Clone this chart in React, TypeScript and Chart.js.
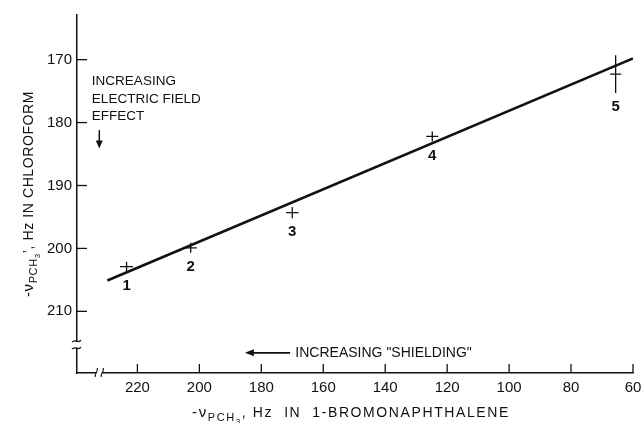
import React, { useEffect, useRef } from 'react';
import { Chart, registerables } from 'chart.js';

Chart.register(...registerables);

const FONT = '"Liberation Sans", Arial, sans-serif';

// ---- data ----
const pointLabels = ['1', '2', '3', '4', '5'];
const xValues = [223.5, 202.8, 170.0, 124.8, 65.6];
const yValues = [202.9, 199.9, 194.3, 182.2, 172.3];
const xErrors = [2.1, 2.0, 2.0, 1.9, 1.8];
const yErrors = [0.8, 0.8, 0.9, 0.8, 3.0];
const fitX = [229.7, 60];
const fitY = [205.1, 169.8];
const xTickValues = [220, 200, 180, 160, 140, 120, 100, 80, 60];
const yTickValues = [170, 180, 190, 200, 210];
const xTickLabels = ['220', '200', '180', '160', '140', '120', '100', '80', '60'];
const yTickLabels = ['170', '180', '190', '200', '210'];

// ---- annotation text ----
const fieldNoteLines = ['INCREASING', 'ELECTRIC FIELD', 'EFFECT'];
const shieldingNote = 'INCREASING "SHIELDING"';
const yTitleParts = [
  { text: '-ν', size: 15, dy: 0 },
  { text: 'PCH', size: 11, dy: 4 },
  { text: '3', size: 8, dy: 7 },
  { text: '\u2019, Hz IN CHLOROFORM', size: 14, dy: 0 },
];
const xTitleParts = [
  { text: '-ν', size: 15, dy: 0 },
  { text: 'PCH', size: 11, dy: 4 },
  { text: '3', size: 8, dy: 7 },
  { text: ', Hz  IN  1-BROMONAPHTHALENE', size: 14, dy: 0 },
];

// annotation anchors in data units
const fieldNoteAt = { x: 234.7, y: 173.5 };
const fieldArrow = { x: 232.3, y1: 181.2, y2: 184.1 };
const shieldArrow = { tail: 170.7, tip: 185.3, y: 216.6 };
const shieldTextX = 169.0;
const yBreakValue = 215.3;
const xBreakValue = 232.3;

type Part = { text: string; size: number; dy: number };

function partsWidth(ctx: CanvasRenderingContext2D, parts: Part[], spacing: number) {
  let w = 0;
  for (const p of parts) {
    ctx.font = `${p.size}px ${FONT}`;
    for (const ch of p.text) w += ctx.measureText(ch).width + spacing;
  }
  return w;
}

function drawRich(
  ctx: CanvasRenderingContext2D,
  parts: Part[],
  cx: number,
  cy: number,
  angle: number,
  spacing: number
) {
  ctx.save();
  ctx.translate(cx, cy);
  ctx.rotate(angle);
  ctx.textBaseline = 'alphabetic';
  ctx.textAlign = 'left';
  const total = partsWidth(ctx, parts, spacing);
  let x = -total / 2;
  for (const p of parts) {
    ctx.font = `${p.size}px ${FONT}`;
    for (const ch of p.text) {
      ctx.fillText(ch, x, p.dy);
      x += ctx.measureText(ch).width + spacing;
    }
  }
  ctx.restore();
}

export default function App() {
  const ref = useRef<HTMLCanvasElement>(null);

  useEffect(() => {
    const canvas = ref.current;
    if (!canvas) return;

    const overlay = {
      id: 'overlay',
      afterDraw(chart: any) {
        const ctx: CanvasRenderingContext2D = chart.ctx;
        const xs = chart.scales.x;
        const ys = chart.scales.y;
        const area = chart.chartArea;
        const ink = '#111';
        ctx.save();
        ctx.strokeStyle = ink;
        ctx.fillStyle = ink;
        ctx.lineCap = 'butt';

        // inner tick marks
        ctx.lineWidth = 1.3;
        for (const v of xTickValues) {
          const px = xs.getPixelForValue(v);
          ctx.beginPath();
          ctx.moveTo(px, area.bottom);
          ctx.lineTo(px, area.bottom - 9);
          ctx.stroke();
        }
        for (const v of yTickValues) {
          const py = ys.getPixelForValue(v);
          ctx.beginPath();
          ctx.moveTo(area.left, py);
          ctx.lineTo(area.left + 10, py);
          ctx.stroke();
        }

        // error crosses
        ctx.lineWidth = 1.3;
        for (let i = 0; i < xValues.length; i++) {
          const x0 = xs.getPixelForValue(xValues[i] + xErrors[i]);
          const x1 = xs.getPixelForValue(xValues[i] - xErrors[i]);
          const yc = ys.getPixelForValue(yValues[i]);
          const xc = xs.getPixelForValue(xValues[i]);
          const y0 = ys.getPixelForValue(yValues[i] - yErrors[i]);
          const y1 = ys.getPixelForValue(yValues[i] + yErrors[i]);
          ctx.beginPath();
          ctx.moveTo(x0, yc);
          ctx.lineTo(x1, yc);
          ctx.moveTo(xc, y0);
          ctx.lineTo(xc, y1);
          ctx.stroke();
          // point number
          ctx.font = `bold 15px ${FONT}`;
          ctx.textAlign = 'center';
          ctx.textBaseline = 'middle';
          ctx.fillText(pointLabels[i], xc, y1 + 14);
        }

        // electric field note
        ctx.font = `13.5px ${FONT}`;
        ctx.textAlign = 'left';
        ctx.textBaseline = 'middle';
        const nx = xs.getPixelForValue(fieldNoteAt.x);
        const ny = ys.getPixelForValue(fieldNoteAt.y);
        fieldNoteLines.forEach((t, i) => ctx.fillText(t, nx, ny + i * 17.5));
        {
          const ax = xs.getPixelForValue(fieldArrow.x);
          const ay1 = ys.getPixelForValue(fieldArrow.y1);
          const ay2 = ys.getPixelForValue(fieldArrow.y2);
          ctx.lineWidth = 1.5;
          ctx.beginPath();
          ctx.moveTo(ax, ay1);
          ctx.lineTo(ax, ay2 - 6);
          ctx.stroke();
          ctx.beginPath();
          ctx.moveTo(ax, ay2);
          ctx.lineTo(ax - 3.5, ay2 - 8);
          ctx.lineTo(ax + 3.5, ay2 - 8);
          ctx.closePath();
          ctx.fill();
        }

        // shielding note
        {
          const sy = ys.getPixelForValue(shieldArrow.y);
          const tail = xs.getPixelForValue(shieldArrow.tail);
          const tip = xs.getPixelForValue(shieldArrow.tip);
          ctx.lineWidth = 1.8;
          ctx.beginPath();
          ctx.moveTo(tail, sy);
          ctx.lineTo(tip + 6, sy);
          ctx.stroke();
          ctx.beginPath();
          ctx.moveTo(tip, sy);
          ctx.lineTo(tip + 9, sy - 3.5);
          ctx.lineTo(tip + 9, sy + 3.5);
          ctx.closePath();
          ctx.fill();
          ctx.font = `14px ${FONT}`;
          ctx.textAlign = 'left';
          ctx.textBaseline = 'middle';
          ctx.fillText(shieldingNote, xs.getPixelForValue(shieldTextX), sy);
        }

        // axis breaks
        {
          const by = ys.getPixelForValue(yBreakValue);
          ctx.fillStyle = '#fff';
          ctx.fillRect(area.left - 2, by - 3, 4, 6);
          ctx.strokeStyle = ink;
          ctx.lineWidth = 1.2;
          for (const off of [-3.5, 3.5]) {
            ctx.beginPath();
            ctx.moveTo(area.left - 5, by + off + 1);
            ctx.bezierCurveTo(area.left - 2, by + off - 3, area.left + 1, by + off + 3, area.left + 4, by + off - 1);
            ctx.stroke();
          }
          const bx = xs.getPixelForValue(xBreakValue);
          ctx.fillStyle = '#fff';
          ctx.fillRect(bx - 3, area.bottom - 2, 6, 4);
          ctx.fillStyle = ink;
          for (const off of [-3, 3]) {
            ctx.beginPath();
            ctx.moveTo(bx + off - 1, area.bottom + 4);
            ctx.bezierCurveTo(bx + off - 2, area.bottom, bx + off + 2, area.bottom - 1, bx + off + 1, area.bottom - 5);
            ctx.stroke();
          }
        }

        // axis titles
        ctx.fillStyle = ink;
        drawRich(ctx, yTitleParts, 33, (area.top + area.bottom) / 2 + 0, -Math.PI / 2, 0.6);
        drawRich(ctx, xTitleParts, 351, 417, 0, 1.6);

        ctx.restore();
      },
    };

    const chart = new Chart(canvas, {
      type: 'scatter',
      data: {
        datasets: [
          {
            type: 'line',
            data: fitX.map((x, i) => ({ x, y: fitY[i] })),
            borderColor: '#111',
            borderWidth: 2.6,
            pointRadius: 0,
            fill: false,
            tension: 0,
          } as any,
          {
            data: xValues.map((x, i) => ({ x, y: yValues[i] })),
            pointRadius: 0,
            showLine: false,
          },
        ],
      },
      options: {
        responsive: false,
        animation: false,
        events: [],
        layout: { padding: { top: 15, right: 10, left: 0, bottom: 0 } },
        plugins: { legend: { display: false }, tooltip: { enabled: false }, title: { display: false } },
        scales: {
          x: {
            type: 'linear',
            reverse: true,
            min: 60,
            max: 239.5,
            afterBuildTicks: (s: any) => {
              s.ticks = xTickValues.map((v) => ({ value: v }));
            },
            afterFit: (s: any) => {
              s.height = 50;
              s.paddingLeft = 0;
              s.paddingRight = 0;
            },
            ticks: {
              autoSkip: false,
              maxRotation: 0,
              padding: 6,
              color: '#111',
              font: { family: FONT, size: 15 },
              callback: (v: any) => xTickLabels[xTickValues.indexOf(Number(v))] ?? '',
            },
            grid: { display: true, drawOnChartArea: false, drawTicks: false, color: '#111' },
            border: { display: true, color: '#111', width: 1.5 },
          },
          y: {
            type: 'linear',
            reverse: true,
            min: 162.9,
            max: 219.8,
            afterBuildTicks: (s: any) => {
              s.ticks = yTickValues.map((v) => ({ value: v }));
            },
            afterFit: (s: any) => {
              s.width = 77;
              s.paddingTop = 0;
              s.paddingBottom = 0;
            },
            ticks: {
              autoSkip: false,
              padding: 5,
              color: '#111',
              font: { family: FONT, size: 15 },
              callback: (v: any) => yTickLabels[yTickValues.indexOf(Number(v))] ?? '',
            },
            grid: { display: true, drawOnChartArea: false, drawTicks: false, color: '#111' },
            border: { display: true, color: '#111', width: 1.5 },
          },
        },
      } as any,
      plugins: [overlay],
    });

    return () => chart.destroy();
  }, []);

  return (
    <div style={{ position: 'fixed', left: 0, top: 0, width: 643, height: 423, background: '#fff' }}>
      <canvas ref={ref} width={643} height={423} style={{ display: 'block' }} />
    </div>
  );
}
